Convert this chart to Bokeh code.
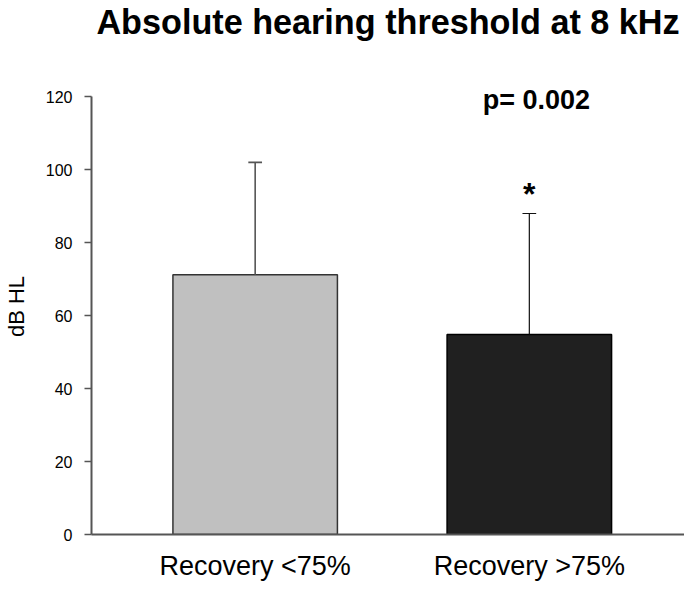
from bokeh.plotting import figure
from bokeh.models import ColumnDataSource, Range1d, FixedTicker, Label, Title
from bokeh.embed import file_html
from bokeh.resources import INLINE

# ---- data ----
categories = ["Recovery <75%", "Recovery >75%"]
means = [71.2, 54.8]
sds = [30.8, 33.2]
y_ticks = [0, 20, 40, 60, 80, 100, 120]
p_text = "p= 0.002"
sig_mark = "*"
title_text = "Absolute hearing threshold at 8 kHz"
y_label = "dB HL"

# ---- derived ----
xs = [i + 0.5 for i in range(len(categories))]
uppers = [m + s for m, s in zip(means, sds)]
cap_half = 0.025
src = ColumnDataSource(dict(
    x=xs, top=means, upper=uppers,
    cap0=[x - cap_half for x in xs], cap1=[x + cap_half for x in xs],
    fill=["#c0c0c0", "#202020"], line=["#333333", "#000000"],
    eline=["#555555", "#111111"], ew=[1.6, 1.2],
))

FONT = "Liberation Sans"
X0, X1 = -0.097, 2.066
Y_TOP = 125  # headroom above the last tick for the p-value text

p = figure(width=684, height=584, output_backend="svg", toolbar_location=None,
           x_range=Range1d(X0, X1), y_range=Range1d(0, Y_TOP),
           min_border_left=80, min_border_right=0, min_border_bottom=50,
           min_border_top=0, title_location=None)

# spacer panel next to the frame, then the real title on top
p.add_layout(Title(text=" ", text_font_size="10px", standoff=25), "above")
p.add_layout(Title(text=title_text, text_font=FONT, text_font_size="34.2px",
                   text_font_style="bold", text_color="#000000", align="center",
                   offset=12, standoff=0), "above")

p.vbar(x="x", top="top", bottom=0, width=0.6, source=src,
       fill_color="fill", line_color="line", line_width=1.5)
p.segment(x0="x", y0="top", x1="x", y1="upper", source=src,
          line_color="eline", line_width="ew")
p.segment(x0="cap0", y0="upper", x1="cap1", y1="upper", source=src,
          line_color="eline", line_width="ew")

# annotations
p.add_layout(Label(x=xs[1], y=uppers[1] + 5.3, text=sig_mark, text_align="center",
                   text_baseline="alphabetic", text_font=FONT, text_font_size="32px",
                   text_font_style="bold", text_color="#000000"))
p.add_layout(Label(x=xs[1], y=119.0, text=p_text, text_align="center",
                   text_baseline="alphabetic", text_font=FONT, text_font_size="27px",
                   text_font_style="bold", text_color="#000000", x_offset=7))

p.xgrid.visible = False
p.ygrid.visible = False
p.outline_line_color = None

# y axis
ya = p.yaxis[0]
ya.ticker = FixedTicker(ticks=y_ticks)
ya.bounds = (y_ticks[0], y_ticks[-1])
ya.axis_line_color = "#555555"
ya.axis_line_width = 2
ya.major_tick_line_color = "#555555"
ya.major_tick_line_width = 1.5
ya.major_tick_out = 7
ya.major_tick_in = 0
ya.minor_tick_line_color = None
ya.major_label_text_font = FONT
ya.major_label_text_font_size = "16px"
ya.major_label_text_color = "#000000"
ya.major_label_standoff = 12
ya.axis_label = y_label
ya.axis_label_text_font = FONT
ya.axis_label_text_font_size = "22px"
ya.axis_label_text_font_style = "normal"
ya.axis_label_text_color = "#000000"
ya.axis_label_standoff = 14

# x axis with category names
xa = p.xaxis[0]
xa.ticker = FixedTicker(ticks=xs)
xa.major_label_overrides = {x: c for x, c in zip(xs, categories)}
xa.axis_line_color = "#555555"
xa.axis_line_width = 2
xa.major_tick_line_color = None
xa.minor_tick_line_color = None
xa.major_tick_out = 0
xa.major_tick_in = 0
xa.major_label_standoff = 16
xa.major_label_text_font = FONT
xa.major_label_text_font_size = "27px"
xa.major_label_text_color = "#000000"

open("out.html", "w").write(file_html(p, INLINE))
